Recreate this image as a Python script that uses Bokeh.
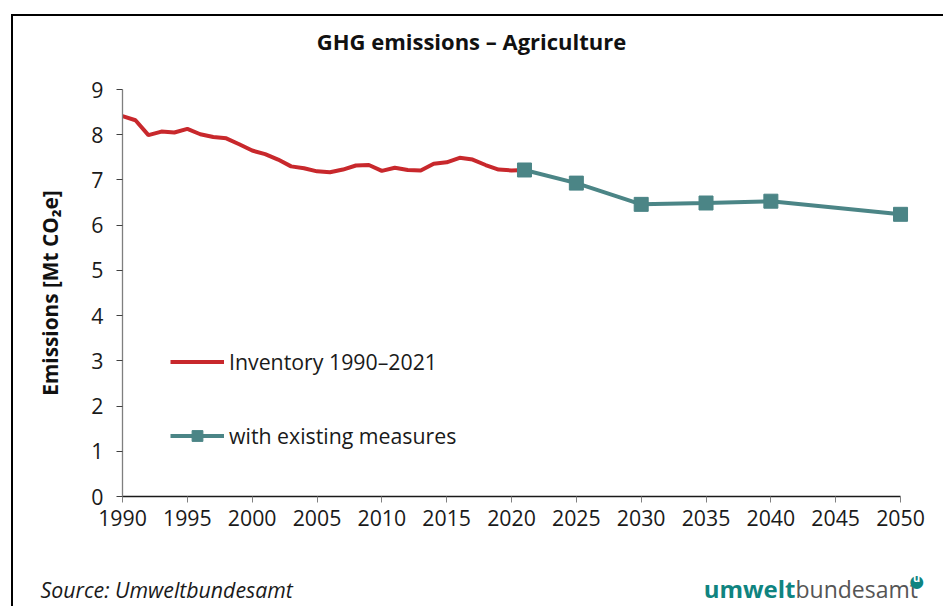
from bokeh.plotting import figure
from bokeh.models import (Range1d, FixedTicker, Legend, LegendItem, Label,
                          InlineStyleSheet)
from bokeh.embed import file_html
from bokeh.resources import INLINE

# Greenhouse gas emissions from agriculture, Mt CO2 equivalent
inv_years = list(range(1990, 2022))
inv_values = [8.41, 8.32, 7.99, 8.07, 8.05, 8.13, 8.01, 7.95, 7.92, 7.79,
              7.65, 7.57, 7.45, 7.30, 7.26, 7.19, 7.17, 7.23, 7.32, 7.33,
              7.20, 7.27, 7.22, 7.21, 7.36, 7.39, 7.49, 7.45, 7.33, 7.23,
              7.21, 7.22]

wem_years = [2021, 2025, 2030, 2035, 2040, 2050]
wem_values = [7.22, 6.93, 6.46, 6.49, 6.53, 6.24]

x_ticks = list(range(1990, 2051, 5))
y_ticks = list(range(0, 10))

title_text = "GHG emissions – Agriculture"
y_label = "Emissions [Mt CO₂e]"
inv_label = "Inventory 1990–2021"
wem_label = "with existing measures"
source_text = "Source: Umweltbundesamt"

RED = "#c8282c"
TEAL = "#4b8586"
LOGO_TEAL = "#0f8480"
FONT = "Open Sans"
TXT = "21.3px"

W, H = 943, 606
FL, FR, FT, FB = 122, 913, 89, 496   # frame edges in canvas pixels

p = figure(width=W, height=H, output_backend="svg", toolbar_location=None,
           x_range=Range1d(1990, 2051), y_range=Range1d(0, 9),
           min_border_left=FL, min_border_right=W - FR,
           min_border_top=FT, min_border_bottom=H - FB)
p.background_fill_color = "white"
p.border_fill_color = "white"
p.outline_line_color = None
p.xgrid.visible = False
p.ygrid.visible = False

# heavy rule along the top and left edge of the panel
p.stylesheets = [InlineStyleSheet(css="""
:host::after {
  content: "";
  position: absolute;
  left: 11px; top: 14px; right: 0; bottom: 0;
  border-left: 2.5px solid #000;
  border-top: 2.5px solid #000;
  pointer-events: none;
  z-index: 100;
}
""")]

# axes
xa = p.xaxis[0]
xa.ticker = FixedTicker(ticks=x_ticks)
xa.bounds = (1990, 2050)
xa.axis_line_color = "#1a1a1a"
xa.axis_line_width = 1.3
xa.major_tick_line_color = "#808080"
xa.major_tick_in = 0
xa.major_tick_out = 6
xa.minor_tick_line_color = None
xa.major_label_text_font = FONT
xa.major_label_text_font_size = TXT
xa.major_label_text_color = "#1a1a1a"
xa.major_label_standoff = 7

ya = p.yaxis[0]
ya.ticker = FixedTicker(ticks=y_ticks)
ya.bounds = (0, 9)
ya.axis_line_color = "#7f7f7f"
ya.axis_line_width = 1.3
ya.major_tick_line_color = "#404040"
ya.major_tick_in = 0
ya.major_tick_out = 6
ya.minor_tick_line_color = None
ya.major_label_text_font = FONT
ya.major_label_text_font_size = TXT
ya.major_label_text_color = "#1a1a1a"
ya.major_label_standoff = 13
ya.axis_label = y_label
ya.axis_label_text_font = FONT
ya.axis_label_text_font_style = "bold"
ya.axis_label_text_font_size = "20.8px"
ya.axis_label_text_color = "#111111"
ya.axis_label_standoff = 24

# series
r_inv = p.line(inv_years, inv_values, line_color=RED, line_width=4)
r_wem_line = p.line(wem_years, wem_values, line_color=TEAL, line_width=4)
r_wem_pts = p.scatter(wem_years, wem_values, marker="square", size=14,
                      fill_color=TEAL, line_color=TEAL)

legend = Legend(items=[LegendItem(label=inv_label, renderers=[r_inv]),
                       LegendItem(label=wem_label, renderers=[r_wem_line, r_wem_pts])],
                location=(170 - FL, FB - 450), orientation="vertical",
                glyph_width=54, glyph_height=27, label_height=27,
                spacing=45, padding=0, margin=0, label_standoff=5,
                border_line_color=None, background_fill_alpha=0,
                label_text_font=FONT, label_text_font_size=TXT,
                label_text_color="#1a1a1a")
p.add_layout(legend)


def canvas_label(text, cx, cy, place, **kw):
    opts = dict(text_font=FONT, text_baseline="middle")
    opts.update(kw)
    lab = Label(x=cx, y=cy, x_units="canvas", y_units="canvas", text=text, **opts)
    p.add_layout(lab, place)
    return lab


# title and footer, positioned in canvas pixels
canvas_label(title_text, 471, 40, "above", text_align="center",
             text_font_style="bold", text_font_size="22px", text_color="#111111")
canvas_label("bundesamt", 795, 588, "above", text_align="left",
             text_font_size="23px", text_color="#555555")
canvas_label(source_text, 40, 589, "below", text_align="left",
             text_font_style="italic", text_font_size=TXT, text_color="#1a1a1a")
canvas_label("umwelt", 795, 588, "below", text_align="right",
             text_font_style="bold", text_font_size="24px", text_color=LOGO_TEAL)
# round badge of the logo
canvas_label("●", 916, 579, "left", text_align="center",
             text_font=FONT, text_font_size="30px", text_color=LOGO_TEAL)
canvas_label("u", 916, 577, "left", text_align="center", text_font_style="bold",
             text_font_size="11px", text_color="white")

open("out.html", "w").write(file_html(p, INLINE))
